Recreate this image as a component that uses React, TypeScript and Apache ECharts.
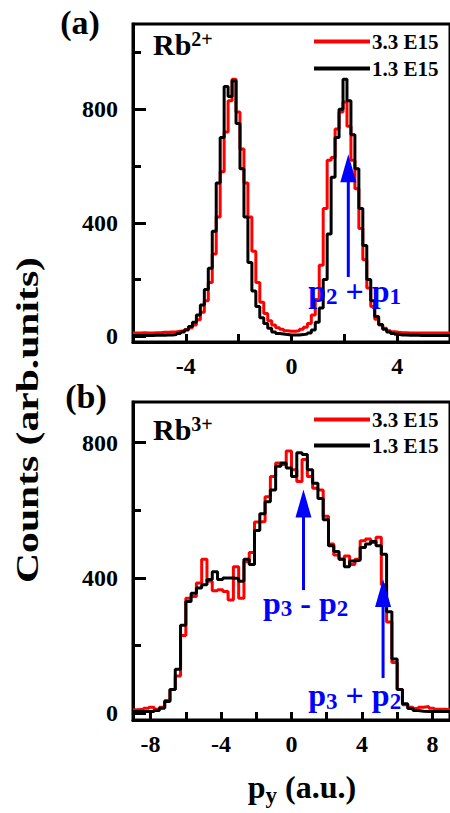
import React, { useEffect, useRef } from 'react';
import * as echarts from 'echarts';

// ---------- data ----------
const seriesNames = ['3.3 E15', '1.3 E15'];

// panel (a): Rb2+, bins of 0.15 a.u. from -6 to 6
const binStartA = -6;
const binWidthA = 0.15;
const countsA_33 = [
  12, 12, 13, 12, 12, 13, 13, 14, 14, 15,
  16, 18, 20, 24, 30, 40, 58, 85, 125, 190,
  290, 420, 580, 720, 830, 905, 790, 660, 540, 420,
  300, 190, 120, 80, 55, 40, 30, 25, 20, 18,
  18, 20, 25, 32, 45, 75, 130, 250, 450, 620,
  630, 730, 790, 825, 740, 620, 520, 380, 270, 170,
  105, 60, 40, 28, 20, 16, 14, 13, 13, 12,
  12, 12, 12, 12, 12, 12, 12, 12, 12, 12,
];
const countsA_13 = [
  3, 3, 3, 3, 3, 4, 4, 4, 5, 5,
  6, 10, 15, 22, 35, 50, 75, 110, 165, 240,
  370, 540, 700, 880, 845, 900, 750, 590, 420, 260,
  160, 105, 65, 45, 28, 15, 10, 8, 6, 5,
  5, 5, 6, 8, 12, 22, 50, 100, 200, 360,
  560, 700, 800, 905, 830, 710, 590, 450, 320, 200,
  125, 70, 42, 25, 15, 10, 7, 5, 5, 4,
  4, 4, 3, 3, 3, 3, 3, 3, 3, 3,
];

// panel (b): Rb3+, bins of 0.3 a.u. from -9 to 9
const binStartB = -9;
const binWidthB = 0.3;
const countsB_33 = [
  10, 12, 15, 18, 12, 18, 38, 70, 110, 230,
  340, 345, 385, 455, 390, 362, 365, 360, 335, 433,
  340, 448, 475, 565, 567, 640, 700, 740, 735, 775,
  720, 685, 750, 700, 665, 660, 582, 500, 468, 455,
  465, 440, 455, 510, 515, 505, 520, 380, 270, 150,
  70, 25, 18, 14, 18, 20, 15, 12, 12, 10,
];
const countsB_13 = [
  5, 5, 5, 5, 8, 15, 35, 70, 130, 260,
  330, 355, 370, 380, 395, 418, 395, 400, 400, 398,
  390, 455, 440, 540, 590, 625, 660, 730, 740, 725,
  700, 770, 765, 720, 680, 635, 572, 495, 478, 455,
  433, 450, 452, 490, 500, 508, 495, 470, 300, 160,
  70, 28, 14, 8, 6, 5, 5, 5, 5, 5,
];

// axes
const xRangeA = [-6, 6];
const xRangeB = [-9, 9];
const yRangeA = [-20, 1100];
const yRangeB = [-20, 920];
const xTicksA = [-4, -2, 0, 2, 4];
const xLabelsA = [-4, 0, 4];
const xTicksB = [-8, -6, -4, -2, 0, 2, 4, 6, 8];
const xLabelsB = [-8, -4, 0, 4, 8];
const yMajorA = [0, 400, 800];
const yMinorA = [200, 600, 1000];
const yMajorB = [0, 400, 800];
const yMinorB = [200, 600];

// annotations: arrows [x, tail y, tip y]; labels [x, y] (centre of the main letters)
const arrowsA = [[2.15, 209, 641]];
const arrowsB = [[0.68, 364, 661], [5.2, 104, 397]];
const labelPosA = [[2.39, 161]];
const labelPosB = [[0.8, 327], [3.59, 53]];
// segments: [text, isSubscript, spaceBefore]
type Seg = [string, number, number];
const labelSegsA: Seg[][] = [
  [['p', 0, 0], ['2', 1, 0], ['+', 0, 1], ['p', 0, 1], ['1', 1, 0]],
];
const labelSegsB: Seg[][] = [
  [['p', 0, 0], ['3', 1, 0], ['-', 0, 1], ['p', 0, 1], ['2', 1, 0]],
  [['p', 0, 0], ['3', 1, 0], ['+', 0, 1], ['p', 0, 1], ['2', 1, 0]],
];
const xTitleSegs: Seg[] = [['p', 0, 0], ['y', 1, 0], ['(a.u.)', 0, 1]];

// ---------- styling ----------
const FONT = '"Liberation Serif", "Times New Roman", serif';
const RED = '#ff0000';
const BLACK = '#000000';
const BLUE = '#0000ff';

let measureCtx: CanvasRenderingContext2D | null = null;
function measure(text: string, size: number) {
  if (!measureCtx) measureCtx = document.createElement('canvas').getContext('2d');
  if (!measureCtx) return text.length * size * 0.5;
  measureCtx.font = `bold ${size}px "Liberation Serif"`;
  return measureCtx.measureText(text).width;
}

function runs(segs: Seg[], cx: number, cy: number, main: number, sub: number, dy: number, fill: string) {
  const space = measure('a a', main) - measure('aa', main);
  const widths = segs.map(([t, s, g]) => g * space + measure(t, s ? sub : main));
  const total = widths.reduce((a, b) => a + b, 0);
  let x = cx - total / 2;
  return segs.map(([t, s, g], i) => {
    const el = {
      type: 'text',
      x: x + g * space,
      y: cy + (s ? dy : 0),
      silent: true,
      style: { text: t, fontSize: s ? sub : main, fontWeight: 'bold', fontFamily: FONT, fill, align: 'left', verticalAlign: 'middle' },
    };
    x += widths[i];
    return el;
  });
}

function toSteps(start: number, width: number, counts: number[]) {
  const pts: number[][] = counts.map((c, i) => [start + i * width, c]);
  pts.push([start + counts.length * width, counts[counts.length - 1]]);
  return pts;
}

function arrowSeries(xi: number, data: number[][]) {
  return {
    type: 'custom',
    xAxisIndex: xi,
    yAxisIndex: xi * 2,
    data,
    silent: true,
    z: 10,
    clip: false,
    renderItem: (params: any, api: any) => {
      const p0 = api.coord([api.value(0), api.value(1)]);
      const p1 = api.coord([api.value(0), api.value(2)]);
      const headH = 28;
      const headW = 16;
      return {
        type: 'group',
        children: [
          { type: 'line', shape: { x1: p0[0], y1: p0[1], x2: p1[0], y2: p1[1] + headH - 2 }, style: { stroke: BLUE, lineWidth: 3 } },
          { type: 'polygon', shape: { points: [[p1[0], p1[1]], [p1[0] - headW / 2, p1[1] + headH], [p1[0] + headW / 2, p1[1] + headH]] }, style: { fill: BLUE } },
        ],
      };
    },
  };
}

function labelSeries(xi: number, data: number[][], segs: Seg[][]) {
  return {
    type: 'custom',
    xAxisIndex: xi,
    yAxisIndex: xi * 2,
    data,
    silent: true,
    z: 11,
    clip: false,
    renderItem: (params: any, api: any) => {
      const p = api.coord([api.value(0), api.value(1)]);
      return { type: 'group', children: runs(segs[params.dataIndex], p[0], p[1], 32, 23, 6, BLUE) };
    },
  };
}

const tickLabel = { fontSize: 24, fontWeight: 'bold', fontFamily: FONT, color: BLACK };

function xAxis(gi: number, range: number[], ticks: number[], labels: number[]) {
  return {
    gridIndex: gi, type: 'value', min: range[0], max: range[1],
    axisLine: { onZero: false, lineStyle: { color: BLACK, width: 3 } },
    axisTick: { inside: true, length: 8, customValues: ticks, lineStyle: { color: BLACK, width: 3 } },
    axisLabel: { ...tickLabel, customValues: labels, margin: 12 },
    splitLine: { show: false },
  };
}

function yAxes(gi: number, range: number[], major: number[], minor: number[]) {
  return [
    {
      gridIndex: gi, type: 'value', min: range[0], max: range[1],
      axisLine: { show: true, onZero: false, lineStyle: { color: BLACK, width: 3 } },
      axisTick: { show: true, inside: true, length: 13, customValues: major, lineStyle: { color: BLACK, width: 3 } },
      axisLabel: { ...tickLabel, customValues: major, margin: 15 },
      splitLine: { show: false },
    },
    {
      gridIndex: gi, type: 'value', min: range[0], max: range[1], position: 'left',
      axisLine: { show: false, onZero: false },
      axisTick: { show: true, inside: true, length: 8, customValues: minor, lineStyle: { color: BLACK, width: 3 } },
      axisLabel: { show: false },
      splitLine: { show: false },
    },
  ];
}

function histSeries(name: string, color: string, xi: number, data: number[][], z: number) {
  return {
    name, type: 'line', step: 'end', xAxisIndex: xi, yAxisIndex: xi * 2, data,
    showSymbol: false, symbol: 'none', z,
    lineStyle: { color, width: 3 }, itemStyle: { color },
  };
}

function legend(top: number, gap: number) {
  return {
    data: seriesNames, orient: 'vertical', left: 314, top, itemWidth: 56, itemHeight: 4,
    icon: 'rect', itemGap: gap, selectedMode: false, padding: 0,
    textStyle: { fontSize: 21, fontWeight: 'bold', fontFamily: FONT, color: BLACK, padding: [0, 0, 0, -3] },
  };
}

const rbRich = (size: number) => ({
  b: { fontSize: size, lineHeight: size, padding: [9, 0, 0, 0], verticalAlign: 'bottom', fontWeight: 'bold', fontFamily: FONT, fill: BLACK },
  sup: { fontSize: 20, lineHeight: 20, verticalAlign: 'top', fontWeight: 'bold', fontFamily: FONT, fill: BLACK },
});

export default function App() {
  const ref = useRef<HTMLDivElement>(null);
  useEffect(() => {
    if (!ref.current) return;
    const chart = echarts.init(ref.current, undefined, { renderer: 'svg' });
    const option: any = {
      animation: false,
      backgroundColor: '#ffffff',
      grid: [
        { left: 133, top: 24, width: 317, height: 318, show: true, borderColor: BLACK, borderWidth: 3, backgroundColor: 'transparent' },
        { left: 133, top: 402, width: 317, height: 318, show: true, borderColor: BLACK, borderWidth: 3, backgroundColor: 'transparent' },
      ],
      xAxis: [xAxis(0, xRangeA, xTicksA, xLabelsA), xAxis(1, xRangeB, xTicksB, xLabelsB)],
      yAxis: [...yAxes(0, yRangeA, yMajorA, yMinorA), ...yAxes(1, yRangeB, yMajorB, yMinorB)],
      legend: [legend(31, 6), legend(409, 5)],
      series: [
        histSeries(seriesNames[0], RED, 0, toSteps(binStartA, binWidthA, countsA_33), 2),
        histSeries(seriesNames[1], BLACK, 0, toSteps(binStartA, binWidthA, countsA_13), 3),
        histSeries(seriesNames[0], RED, 1, toSteps(binStartB, binWidthB, countsB_33), 2),
        histSeries(seriesNames[1], BLACK, 1, toSteps(binStartB, binWidthB, countsB_13), 3),
        arrowSeries(0, arrowsA),
        arrowSeries(1, arrowsB),
        labelSeries(0, labelPosA, labelSegsA),
        labelSeries(1, labelPosB, labelSegsB),
      ],
      graphic: [
        { type: 'text', x: 80, y: 22, style: { text: '(a)', fontSize: 34, fontWeight: 'bold', fontFamily: FONT, fill: BLACK, align: 'center', verticalAlign: 'middle' } },
        { type: 'text', x: 86, y: 396, style: { text: '(b)', fontSize: 34, fontWeight: 'bold', fontFamily: FONT, fill: BLACK, align: 'center', verticalAlign: 'middle' } },
        { type: 'text', x: 153, y: 29, style: { text: '{b|Rb}{sup|2+}', rich: rbRich(30), fill: BLACK, align: 'left', verticalAlign: 'top' } },
        { type: 'text', x: 153, y: 414, style: { text: '{b|Rb}{sup|3+}', rich: rbRich(30), fill: BLACK, align: 'left', verticalAlign: 'top' } },
        { type: 'text', x: 27, y: 420, rotation: Math.PI / 2, scaleX: 1.3, style: { text: 'Counts (arb.units)', fontSize: 32, fontWeight: 'bold', fontFamily: FONT, fill: BLACK, align: 'center', verticalAlign: 'middle' } },
        { type: 'group', children: runs(xTitleSegs, 302, 787, 32, 23, 8, BLACK) },
      ],
    };
    chart.setOption(option);
    return () => chart.dispose();
  }, []);
  return <div ref={ref} style={{ position: 'absolute', left: 0, top: 0, width: 450, height: 813 }} />;
}
